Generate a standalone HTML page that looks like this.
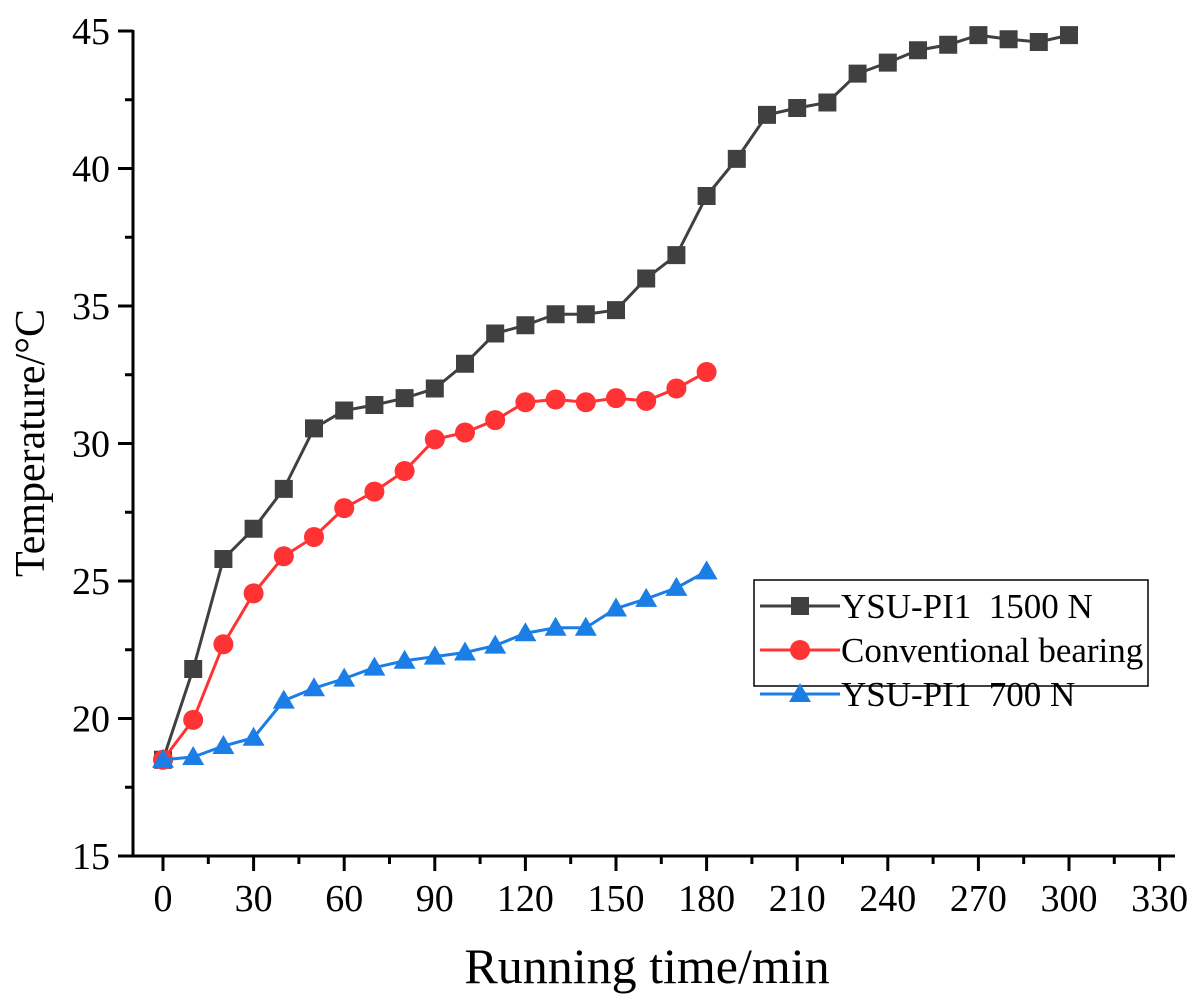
<!DOCTYPE html>
<html><head><meta charset="utf-8"><style>body{margin:0;background:#fff}svg{display:block}text{font-family:"Liberation Serif",serif;fill:#000}</style></head>
<body>
<svg id="c" width="1201" height="1004"></svg>
<script>
const times=[0,10,20,30,40,50,60,70,80,90,100,110,120,130,140,150,160,170,180,190,200,210,220,230,240,250,260,270,280,290,300];
const black=[18.5,21.8,25.8,26.9,28.35,30.55,31.2,31.4,31.65,32,32.9,34,34.3,34.7,34.7,34.85,36,36.85,39,40.35,41.95,42.2,42.4,43.45,43.85,44.3,44.5,44.85,44.7,44.6,44.85];
const red=[18.5,19.95,22.7,24.55,25.9,26.6,27.65,28.25,29,30.15,30.4,30.85,31.5,31.6,31.5,31.65,31.55,32,32.6];
const blue=[18.5,18.6,19,19.3,20.65,21.1,21.45,21.85,22.1,22.25,22.4,22.65,23.1,23.3,23.3,24,24.35,24.75,25.35];
const xTicks=[0,30,60,90,120,150,180,210,240,270,300,330];
const yTicks=[15,20,25,30,35,40,45];
const X=v=>163+v*3.02, Y=v=>856-(v-15)*27.5;
const svg=document.getElementById('c');const NS='http://www.w3.org/2000/svg';
function el(t,a,p){const e=document.createElementNS(NS,t);for(const k in a)e.setAttribute(k,a[k]);(p||svg).appendChild(e);return e;}
let e;
e=el('line',{x1:133,y1:856,x2:1175,y2:856,stroke:'#000','stroke-width':3});

e=el('line',{x1:133,y1:856,x2:133,y2:30,stroke:'#000','stroke-width':3});

xTicks.forEach((t,i)=>{
 el('line',{x1:X(t),y1:856,x2:X(t),y2:871,stroke:'#000','stroke-width':3});
 if(i<xTicks.length-1)el('line',{x1:X(t+15),y1:856,x2:X(t+15),y2:864,stroke:'#000','stroke-width':3});
 e=el('text',{x:X(t),y:911,'font-size':38,'text-anchor':'middle'});e.textContent=t;
 
});
yTicks.forEach((t,i)=>{
 el('line',{x1:118,y1:Y(t),x2:133,y2:Y(t),stroke:'#000','stroke-width':3});
 if(i<yTicks.length-1)el('line',{x1:125,y1:Y(t+2.5),x2:133,y2:Y(t+2.5),stroke:'#000','stroke-width':3});
 e=el('text',{x:110,y:Y(t)+13,'font-size':38,'text-anchor':'end'});e.textContent=t;
 
});
e=el('text',{x:647,y:983,'font-size':50,'text-anchor':'middle'});e.textContent='Running time/min';

e=el('text',{x:0,y:0,'font-size':42,'text-anchor':'middle',transform:'translate(44,443) rotate(-90)'});e.textContent='Temperature/°C';

function marker(shape,x,y,c,g){
 if(shape==='sq')return el('rect',{x:x-9,y:y-9,width:18,height:18,fill:c},g);
 if(shape==='ci')return el('circle',{cx:x,cy:y,r:10,fill:c},g);
 return el('polygon',{points:`${x},${y-11} ${x+11},${y+8} ${x-11},${y+8}`,fill:c},g);
}
function series(vals,c,shape,name){
 const g=el('g',{});
 el('polyline',{points:vals.map((v,i)=>X(times[i])+','+Y(v)).join(' '),fill:'none',stroke:c,'stroke-width':3},g);
 vals.forEach((v,i)=>{const m=marker(shape,X(times[i]),Y(v),c,g);});
}
series(black,'#404040','sq','series-ysu-1500n');
series(red,'#ff3333','ci','series-conventional');
series(blue,'#1a7ee6','tr','series-ysu-700n');
const lg=el('g',{});
el('rect',{x:754,y:580,width:394,height:106,fill:'#fff',stroke:'#000','stroke-width':1.5},lg);
[['YSU-PI1  1500 N','#404040','sq'],['Conventional bearing','#ff3333','ci'],['YSU-PI1  700 N','#1a7ee6','tr']].forEach((d,i)=>{
 const y=606+i*44;
 el('line',{x1:760,y1:y,x2:840,y2:y,stroke:d[1],'stroke-width':3},lg);
 marker(d[2],800,y,d[1],lg);
 const t=el('text',{x:841,y:y+12,'font-size':35},lg);t.textContent=d[0];t.style.whiteSpace='pre';
 
});
</script>
</body></html>
